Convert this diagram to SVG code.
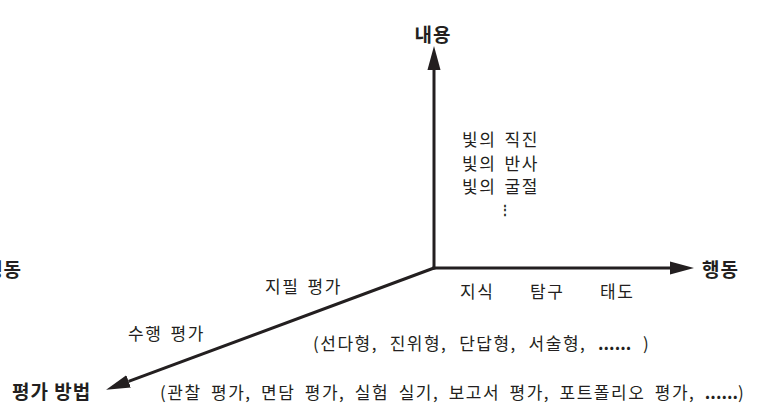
<svg xmlns="http://www.w3.org/2000/svg" width="759" height="415" viewBox="0 0 759 415">
<style>
.t{font-family:"Noto Sans CJK KR","Liberation Sans",sans-serif;font-size:17px;letter-spacing:1.5px;word-spacing:3px;fill:#231f20;dominant-baseline:central}
.b{font-family:"Noto Sans CJK KR","Liberation Sans",sans-serif;font-size:19px;letter-spacing:1px;font-weight:bold;fill:#231f20;dominant-baseline:central}
.dots{font-weight:bold;letter-spacing:0}
.ax{stroke:#231f20;stroke-width:3;fill:none}
</style>
<defs>
<marker id="ah" markerUnits="userSpaceOnUse" markerWidth="24" markerHeight="14" refX="0" refY="6" orient="auto" viewBox="0 0 22 12">
<path d="M0,0 L22,6 L0,12 z" fill="#231f20"/>
</marker>
</defs>
<rect width="759" height="415" fill="#fff"/>
<g id="connectors">
<line class="ax" x1="434" y1="269.5" x2="434" y2="70" marker-end="url(#ah)"/>
<line class="ax" x1="432.5" y1="268" x2="670" y2="268" marker-end="url(#ah)"/>
<line class="ax" x1="434" y1="268" x2="128.6" y2="381.4" marker-end="url(#ah)"/>
</g>
<g id="axis-content">
<text class="b" x="433" y="33" text-anchor="middle">내용</text>
<text class="t" x="462" y="138">빛의 직진</text>
<text class="t" x="462" y="162">빛의 반사</text>
<text class="t" x="462" y="185">빛의 굴절</text>
<text class="t" x="505" y="208" text-anchor="middle" style="font-size:12px;letter-spacing:0;font-weight:bold">⋮</text>
</g>
<g id="axis-behavior">
<text class="b" x="702" y="268">행동</text>
<text class="t" x="460" y="290">지식</text>
<text class="t" x="530" y="290">탐구</text>
<text class="t" x="600" y="290">태도</text>
</g>
<g id="axis-behavior-left">
<text class="b" x="22" y="268" text-anchor="end">행동</text>
</g>
<g id="axis-method">
<text class="b" x="12" y="390">평가 방법</text>
<text class="t" x="265" y="285">지필 평가</text>
<text class="t" x="313" y="342" style="word-spacing:6.5px">(선다형, 진위형, 단답형, 서술형, <tspan class="dots">......</tspan> )</text>
<text class="t" x="128" y="332">수행 평가</text>
<text class="t" x="160" y="391" style="word-spacing:4.2px">(관찰 평가, 면담 평가, 실험 실기, 보고서 평가, 포트폴리오 평가, <tspan class="dots">......</tspan>)</text>
</g>
</svg>
